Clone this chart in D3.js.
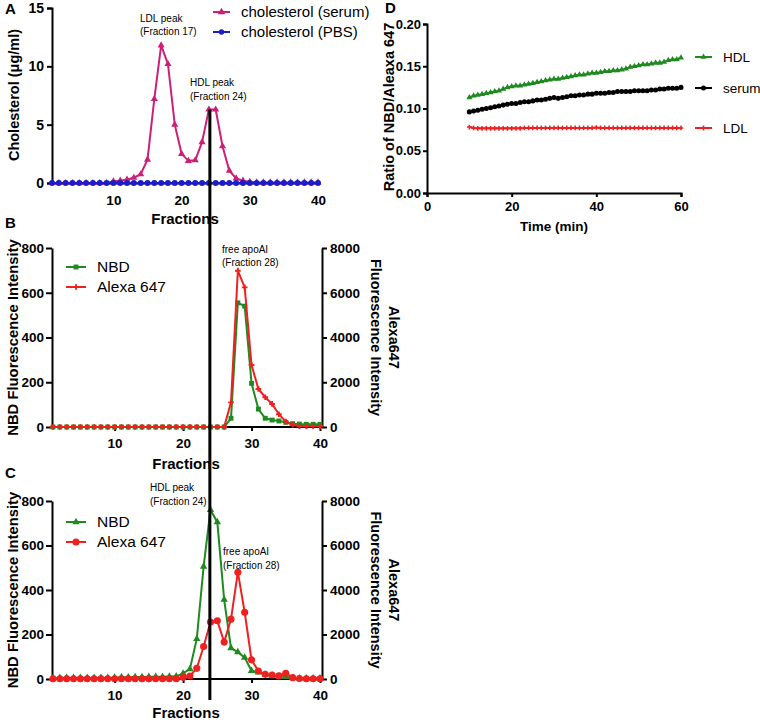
<!DOCTYPE html>
<html><head><meta charset="utf-8">
<script src="https://cdn.jsdelivr.net/npm/d3@7"></script>
<style>body{margin:0;background:#fff}svg{font-family:"Liberation Sans",Arial,sans-serif}</style>
</head><body>
<svg id="c" width="760" height="720"></svg>
<script>
const fractions = [1,2,3,4,5,6,7,8,9,10,11,12,13,14,15,16,17,18,19,20,21,22,23,24,25,26,27,28,29,30,31,32,33,34,35,36,37,38,39,40];
// Panel A
const cholSerum = [0,0,0,0,0,0,0,0,0,0.15,0.2,0.3,0.45,0.75,2.0,7.2,11.8,10.2,5.0,2.5,1.9,1.95,3.5,6.3,6.3,3.15,1.05,0.4,0.2,0.1,0.05,0.05,0.05,0.05,0.05,0.05,0.05,0.05,0.05,0.05];
const cholPBS = [0,0,0,0,0,0,0,0,0,0,0,0,0,0,0,0,0,0,0,0,0,0,0,0,0,0,0,0,0,0,0,0,0,0,0,0,0,0,0,0];
// Panel B
const bNBD = [0,0,0,0,0,0,0,0,0,0,0,0,0,0,0,0,0,0,0,0,0,0,0,0,0,0,39,555,540,195,80,39,31,27,21,15,13,12,12,12];
const bAlexa = [0,0,0,0,0,0,0,0,0,0,0,0,0,0,0,0,0,0,0,0,0,0,0,0,0,0,1100,6985,6240,2770,1700,1330,1030,570,240,90,40,40,40,40];
// Panel C
const cNBD = [5,5,5,5,5,5,5,5,5,6,8,8,9,9,10,10,10,11,12,25,45,180,505,760,705,357,139,121,96,37,30,20,15,12,10,5,3,3,3,3];
const cAlexa = [10,10,10,10,10,10,10,10,10,10,10,10,10,10,10,10,10,10,10,75,135,480,1460,2560,2620,1660,2690,4800,3000,860,360,210,180,140,260,60,20,10,10,10];
// Panel D
const times = [10,11,12,13,14,15,16,17,18,19,20,21,22,23,24,25,26,27,28,29,30,31,32,33,34,35,36,37,38,39,40,41,42,43,44,45,46,47,48,49,50,51,52,53,54,55,56,57,58,59,60];
const dHDL = [0.113,0.115,0.116,0.117,0.118,0.119,0.120,0.121,0.123,0.125,0.126,0.127,0.127,0.128,0.129,0.130,0.131,0.132,0.133,0.134,0.135,0.135,0.136,0.137,0.138,0.139,0.140,0.140,0.141,0.142,0.142,0.143,0.144,0.144,0.145,0.145,0.146,0.147,0.149,0.150,0.151,0.152,0.152,0.153,0.154,0.154,0.155,0.157,0.158,0.158,0.160];
const dSerum = [0.096,0.097,0.098,0.099,0.100,0.101,0.102,0.103,0.104,0.105,0.106,0.106,0.107,0.108,0.108,0.109,0.110,0.110,0.111,0.112,0.113,0.112,0.113,0.114,0.115,0.115,0.116,0.116,0.117,0.117,0.118,0.118,0.118,0.119,0.119,0.120,0.120,0.120,0.120,0.121,0.121,0.121,0.121,0.122,0.122,0.123,0.123,0.124,0.124,0.124,0.125];
const dLDL = [0.078,0.077,0.0765,0.0765,0.0765,0.0765,0.0765,0.0765,0.0765,0.0765,0.0765,0.0765,0.0765,0.077,0.077,0.077,0.077,0.077,0.077,0.077,0.077,0.077,0.077,0.077,0.077,0.077,0.077,0.077,0.077,0.077,0.0775,0.077,0.077,0.077,0.077,0.077,0.077,0.077,0.077,0.077,0.077,0.077,0.077,0.077,0.077,0.077,0.077,0.077,0.077,0.077,0.077];

const aTicks = [0,5,10,15];
const fTicks = [10,20,30,40];
const bcLeftTicks = [0,200,400,600,800];
const bcRightTicks = [0,2000,4000,6000,8000];
const dYTicks = [0,0.05,0.10,0.15,0.20];
const dXTicks = [0,20,40,60];

const C = {serum:"#cc1f78", pbs:"#1c1cc8", green:"#1f8a1f", red:"#ee2020", black:"#000"};
const svg = d3.select("#c");

function sym(g, data, type, size, color){
  g.selectAll(null).data(data).join("path")
   .attr("d", d3.symbol().type(type).size(size))
   .attr("transform", d=>`translate(${d[0]},${d[1]})`)
   .attr("fill", color).attr("stroke","none");
}
function series(xs, ys, x, y, color, type, size){
  const pts = xs.map((v,i)=>[x(v), y(ys[i])]);
  svg.append("path").attr("d", d3.line()(pts)).attr("fill","none").attr("stroke",color).attr("stroke-width",2);
  sym(svg.append("g"), pts, type, size, color);
}
function styleAxis(g, fs){
  g.select(".domain").attr("stroke","#000").attr("stroke-width",2);
  g.selectAll(".tick line").attr("stroke","#000").attr("stroke-width",2);
  g.selectAll(".tick text").attr("font-size",fs).attr("font-weight","bold").attr("fill","#000").attr("font-family","Liberation Sans, Arial, sans-serif");
}
function text(x,y,t,opt={}){
  const e = svg.append("text").attr("x",x).attr("y",y).text(t)
    .attr("font-size",opt.fs||14).attr("font-weight",opt.fw||"normal")
    .attr("text-anchor",opt.anchor||"start").attr("fill",opt.fill||"#000");
  if(opt.rot!==undefined) e.attr("transform",`rotate(${opt.rot},${x},${y})`);
  return e;
}

// ---------- Panel A ----------
const xA = d3.scaleLinear().domain([1,40]).range([52,318]);
const yA = d3.scaleLinear().domain([0,15]).range([183,8]);
styleAxis(svg.append("g").attr("transform","translate(52,0)").call(d3.axisLeft(yA).tickValues(aTicks).tickSize(5).tickPadding(3)),14);
styleAxis(svg.append("g").attr("transform","translate(0,183)").call(d3.axisBottom(xA).tickValues(fTicks).tickSize(0).tickSizeOuter(0).tickPadding(12)),13.5);
text(5,14,"A",{fs:15,fw:"bold"});
text(185,224,"Fractions",{fs:15,fw:"bold",anchor:"middle"});
text(19,95,"Cholesterol (μg/ml)",{fs:14.5,fw:"bold",anchor:"middle",rot:-90});
series(fractions, cholSerum, xA, yA, C.serum, d3.symbolTriangle, 22);
series(fractions, cholPBS, xA, yA, C.pbs, d3.symbolCircle, 28);
text(140,22,"LDL peak",{fs:10});
text(140,35,"(Fraction 17)",{fs:10});
text(190,86,"HDL peak",{fs:10});
text(190,100,"(Fraction 24)",{fs:10});
// legend A
[[C.serum,"cholesterol (serum)",12,d3.symbolTriangle],[C.pbs,"cholesterol (PBS)",32,d3.symbolCircle]].forEach(([col,lab,yy,tp])=>{
  svg.append("line").attr("x1",213).attr("x2",230).attr("y1",yy).attr("y2",yy).attr("stroke",col).attr("stroke-width",2);
  sym(svg.append("g"),[[221.5,yy]],tp,24,col);
  text(241,yy+5,lab,{fs:15});
});

// ---------- Panels B and C ----------
function fluoPanel(top, bottom, nbd, alexa, nbdSym, alexaSym, alexaSize, label, labelY, ann, legY, fracY){
  const x = d3.scaleLinear().domain([1,40]).range([53,320]);
  const yL = d3.scaleLinear().domain([0,800]).range([bottom,top]);
  const yR = d3.scaleLinear().domain([0,8000]).range([bottom,top]);
  styleAxis(svg.append("g").attr("transform","translate(52,0)").call(d3.axisLeft(yL).tickValues(bcLeftTicks).tickSize(6).tickPadding(2).tickSizeOuter(0)),13.5);
  styleAxis(svg.append("g").attr("transform","translate(322,0)").call(d3.axisRight(yR).tickValues(bcRightTicks).tickFormat(d3.format("d")).tickSize(5).tickPadding(3).tickSizeOuter(0)),13.5);
  const gx = svg.append("g").attr("transform",`translate(0,${bottom})`).call(d3.axisBottom(x).tickValues(fTicks).tickSize(4).tickSizeOuter(0).tickPadding(7));
  gx.select(".domain").attr("d",`M52,0H322`);
  styleAxis(gx,13.5);
  text(5,labelY,label,{fs:15,fw:"bold"});
  text(186,fracY,"Fractions",{fs:15,fw:"bold",anchor:"middle"});
  const mid = (top+bottom)/2;
  text(18,mid,"NBD Fluorescence Intensity",{fs:14.8,fw:"bold",anchor:"middle",rot:-90});
  text(389,mid,"Alexa647",{fs:14.5,fw:"bold",anchor:"middle",rot:90});
  text(371,mid,"Fluorescence Intensity",{fs:14.5,fw:"bold",anchor:"middle",rot:90});
  series(fractions, nbd, x, yL, C.green, nbdSym, 24);
  series(fractions, alexa, x, yR, C.red, alexaSym, alexaSize);
  ann.forEach(a=>text(a[0],a[1],a[2],{fs:10}));
  [[C.green,"NBD",legY,nbdSym,24],[C.red,"Alexa 647",legY+20,alexaSym,alexaSize]].forEach(([col,lab,yy,tp,sz])=>{
    svg.append("line").attr("x1",66).attr("x2",86).attr("y1",yy).attr("y2",yy).attr("stroke",col).attr("stroke-width",2);
    sym(svg.append("g"),[[76,yy]],tp,sz,col);
    text(97,yy+5,lab,{fs:15.5});
  });
}
fluoPanel(248, 427, bNBD, bAlexa, d3.symbolSquare, d3.symbolCross, 18, "B", 228,
  [[222,253,"free apoAI"],[222,266,"(Fraction 28)"]], 267, 469);
fluoPanel(501, 679, cNBD, cAlexa, d3.symbolTriangle, d3.symbolCircle, 40, "C", 478,
  [[150,491,"HDL peak"],[150,505,"(Fraction 24)"],[223,555,"free apoAI"],[223,569,"(Fraction 28)"]], 522, 718);

// vertical HDL line
svg.append("line").attr("x1",xA(24)+1).attr("x2",xA(24)+1).attr("y1",yA(6.3)).attr("y2",700).attr("stroke","#000").attr("stroke-width",3);

// ---------- Panel D ----------
const xD = d3.scaleLinear().domain([0,60]).range([427,681]);
const yD = d3.scaleLinear().domain([0,0.2]).range([193,24]);
styleAxis(svg.append("g").attr("transform","translate(427,0)").call(d3.axisLeft(yD).tickValues(dYTicks).tickFormat(d3.format(".2f")).tickSize(4).tickPadding(2)),13);
styleAxis(svg.append("g").attr("transform","translate(0,193)").call(d3.axisBottom(xD).tickValues(dXTicks).tickSize(4).tickPadding(5)),13);
text(385,13,"D",{fs:15,fw:"bold"});
text(554,231,"Time (min)",{fs:13.5,fw:"bold",anchor:"middle"});
text(394,107,"Ratio of NBD/Aleaxa 647",{fs:14.5,fw:"bold",anchor:"middle",rot:-90});
series(times, dLDL, xD, yD, C.red, d3.symbolCross, 12);
series(times, dSerum, xD, yD, C.black, d3.symbolCircle, 20);
series(times, dHDL, xD, yD, C.green, d3.symbolTriangle, 16);
[[C.green,"HDL",57,d3.symbolTriangle,16],[C.black,"serum",88,d3.symbolCircle,20],[C.red,"LDL",128,d3.symbolCross,14]].forEach(([col,lab,yy,tp,sz])=>{
  svg.append("line").attr("x1",695).attr("x2",712).attr("y1",yy).attr("y2",yy).attr("stroke",col).attr("stroke-width",2);
  sym(svg.append("g"),[[703.5,yy]],tp,sz,col);
  text(723,yy+5,lab,{fs:13.5});
});
</script>
</body></html>
